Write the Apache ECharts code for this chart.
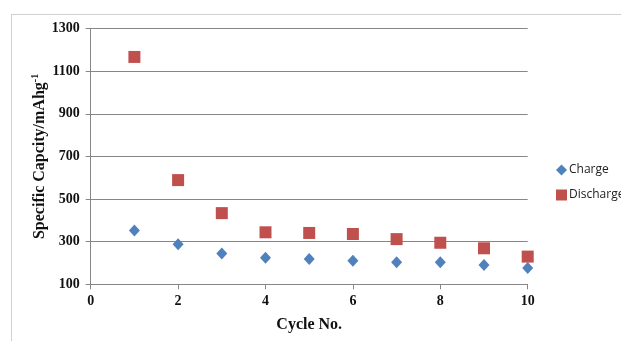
<!DOCTYPE html>
<html><head><meta charset="utf-8">
<script src="https://cdn.jsdelivr.net/npm/echarts@6/dist/echarts.min.js"></script>
<style>
html,body{margin:0;padding:0;background:#fff;}
#frame{position:absolute;left:11px;top:14px;width:620px;height:340px;border-left:1px solid #d0d0d0;border-top:1px solid #d0d0d0;}
#c{position:absolute;left:0;top:0;width:621px;height:341px;}
</style></head>
<body>
<div id="frame"></div>
<div id="c"></div>
<script>
const cycles = [1,2,3,4,5,6,7,8,9,10];
const charge = [352,288,245,225,219,211,203,203,191,177];
const discharge = [1167,589,434,344,341,336,312,295,269,230];
const seriesNames = ['Charge','Discharge'];
const xTitle = 'Cycle No.';
const chart = echarts.init(document.getElementById('c'));
const serif = '"Liberation Serif","Times New Roman",serif';
const sans = '"Open Sans","Liberation Sans",sans-serif';
chart.setOption({
  backgroundColor:'transparent',
  animation:false,
  grid:{left:90.7,right:93.3,top:28.6,bottom:56.7},
  legend:{
    orient:'vertical', left:551, top:159, itemGap:13, itemWidth:11, itemHeight:11,
    textStyle:{fontFamily:sans,fontSize:12,color:'#222',padding:[0,0,0,-3]},
    data:[{name:seriesNames[0],icon:'diamond'},{name:seriesNames[1],icon:'rect'}]
  },
  xAxis:{
    type:'value',min:0,max:10,interval:2,
    name:xTitle,nameLocation:'middle',nameGap:33,nameMoveOverlap:false,
    nameTextStyle:{fontFamily:serif,fontWeight:'bold',fontSize:16,color:'#111'},
    axisLine:{onZero:false,lineStyle:{color:'#868686'}},
    axisTick:{show:true,length:5,lineStyle:{color:'#868686'}},
    axisLabel:{fontFamily:serif,fontWeight:'bold',fontSize:14,color:'#111',margin:10,formatter:v=>String(v)},
    splitLine:{show:false}
  },
  yAxis:{
    type:'value',min:100,max:1300,interval:200,
    name:'{a|Specific Capcity/mAhg}{s|-1}',nameLocation:'middle',nameGap:42,nameMoveOverlap:false,
    nameTextStyle:{rich:{
      a:{fontFamily:serif,fontWeight:'bold',fontSize:16,color:'#111'},
      s:{fontFamily:serif,fontWeight:'bold',fontSize:10,color:'#111',verticalAlign:'top',padding:[0,0,8,0]}
    }},
    axisLine:{show:true,lineStyle:{color:'#868686'}},
    axisTick:{show:true,length:5,lineStyle:{color:'#868686'}},
    axisLabel:{fontFamily:serif,fontWeight:'bold',fontSize:14,color:'#111',margin:11,formatter:v=>String(v)},
    splitLine:{show:true,lineStyle:{color:'#868686',width:1}}
  },
  series:[
    {name:seriesNames[0],type:'scatter',symbol:'diamond',symbolSize:[11,12],
     itemStyle:{color:'#4F81BD',opacity:1},data:cycles.map((c,i)=>[c,charge[i]])},
    {name:seriesNames[1],type:'scatter',symbol:'rect',symbolSize:[12,12],
     itemStyle:{color:'#C0504D',opacity:1},data:cycles.map((c,i)=>[c,discharge[i]])}
  ]
});
</script>
</body></html>
